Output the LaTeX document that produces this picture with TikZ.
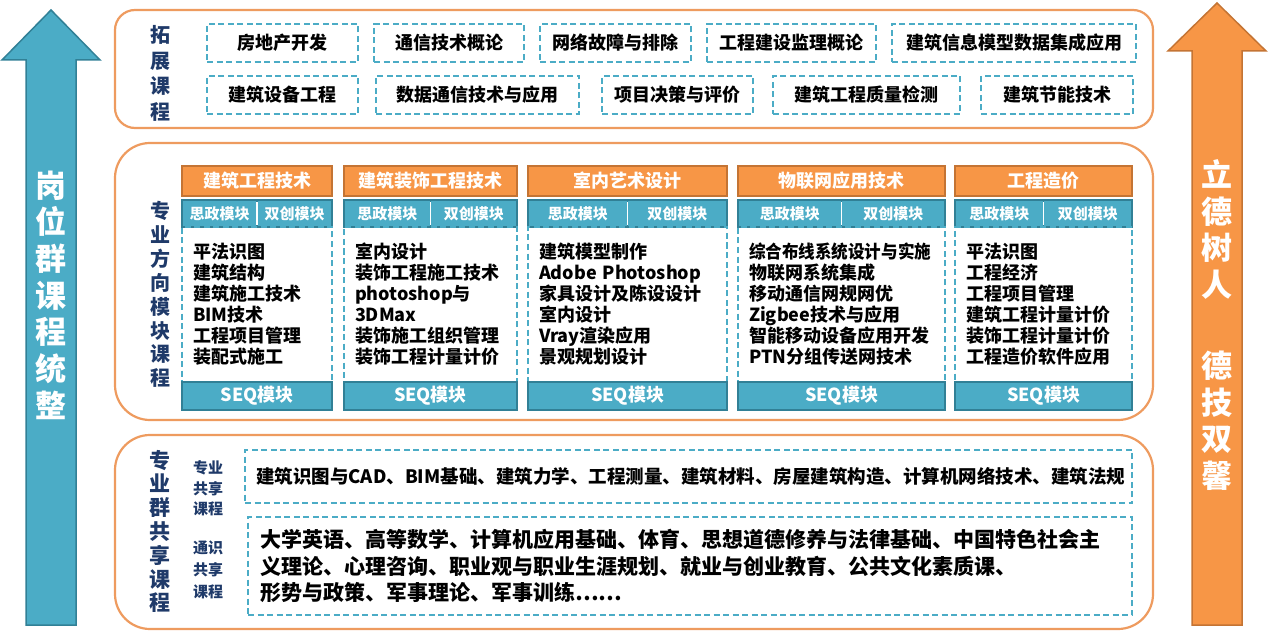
\documentclass[tikz,border=0pt]{standalone}
\usepackage{fontspec}
\setmainfont{Noto Sans CJK SC}
\usepackage{graphicx}
\usetikzlibrary{positioning}

\definecolor{tealfill}{RGB}{75,172,198}
\definecolor{tealdark}{RGB}{49,128,150}
\definecolor{orangefill}{RGB}{247,150,70}
\definecolor{orangedark}{RGB}{196,116,52}
\definecolor{panelline}{RGB}{238,155,95}
\definecolor{navy}{RGB}{31,58,105}

\tikzset{
  panelbox/.style={draw=panelline, line width=2.2pt, fill=white},
  dashbox/.style={draw=tealfill, line width=2pt, dash pattern=on 6pt off 3.5pt, font=\fontsize{18}{21}\selectfont\bfseries, minimum height=38pt, inner sep=0pt, outer sep=0pt},
  modhead/.style={draw=orangedark, fill=orangefill, line width=1.2pt, text=white, font=\fontsize{18}{21}\selectfont\bfseries, minimum height=30pt, inner sep=0pt, outer sep=0pt},
  modsub/.style={draw=tealdark, fill=tealfill, line width=1.2pt, text=white, font=\fontsize{15}{18}\selectfont\bfseries, minimum height=27pt, minimum width=#1, inner sep=0pt, outer sep=0pt},
  modbody/.style={draw=tealfill, line width=2pt, dash pattern=on 6pt off 3.5pt, font=\fontsize{18}{21}\selectfont\bfseries, minimum height=155pt, inner xsep=11pt, inner ysep=0pt, outer sep=0pt, align=left},
  modseq/.style={draw=tealdark, fill=tealfill, line width=1.2pt, text=white, font=\fontsize{18}{21}\selectfont\bfseries, minimum height=28pt, inner sep=0pt, outer sep=0pt},
  vlabel/.style={text=navy, font=\fontsize{20}{25}\selectfont\bfseries, align=center, inner sep=0pt},
  arrowtext/.style={text=white, font=\fontsize{31}{36.7}\selectfont\bfseries, align=center, inner sep=0pt},
}

\begin{document}
\begin{tikzpicture}[x=1pt, y=-1pt]
\useasboundingbox (0,0) rectangle (1269,631);

% Arrows
\draw[fill=tealfill, draw=tealdark, line width=1.5pt] (51,10) -- (100,60) -- (76,60) -- (76,625) -- (26,625) -- (26,60) -- (2,60) -- cycle;
\draw[fill=orangefill, draw=orangedark, line width=1.5pt] (1217,3) -- (1266,51) -- (1242,51) -- (1242,625) -- (1192,625) -- (1192,51) -- (1168,51) -- cycle;
\node[arrowtext] (goal) at (51,295) {岗\\位\\群\\课\\程\\统\\整};
\node[arrowtext] (moral) at (1217,325) {立\\德\\树\\人\\[44pt]德\\技\\双\\馨};

% Panels
\draw[panelbox, rounded corners=20pt] (115,10) rectangle (1153,128);
\draw[panelbox, rounded corners=35pt] (115,143) rectangle (1153,420);
\draw[panelbox, rounded corners=35pt] (115,435) rectangle (1153,629);

% Extension courses
\node[vlabel, font=\fontsize{20}{25.7}\selectfont\bfseries] (ext) at (160,73.5) {拓\\展\\课\\程};
\node[dashbox, minimum width=151pt] (k1) at (282.5,43) {房地产开发};
\node[dashbox, minimum width=150pt, right=16pt of k1] (k2) {通信技术概论};
\node[dashbox, minimum width=151pt, right=16pt of k2] (k3) {网络故障与排除};
\node[dashbox, minimum width=169pt, right=16pt of k3] (k4) {工程建设监理概论};
\node[dashbox, minimum width=244pt, right=16pt of k4] (k5) {建筑信息模型数据集成应用};
\node[dashbox, minimum width=151pt] (m1) at (282.5,95) {建筑设备工程};
\node[dashbox, minimum width=203pt, right=18pt of m1] (m2) {数据通信技术与应用};
\node[dashbox, minimum width=151pt, right=23pt of m2] (m3) {项目决策与评价};
\node[dashbox, minimum width=187pt, right=20pt of m3] (m4) {建筑工程质量检测};
\node[dashbox, minimum width=152pt, right=21pt of m4] (m5) {建筑节能技术};

% Direction modules
\node[vlabel, font=\fontsize{20}{23.9}\selectfont\bfseries] (dir) at (160,294.5) {专\\业\\方\\向\\模\\块\\课\\程};

\node[modhead, minimum width=150pt] (h1) at (257,181) {建筑工程技术};
\node[modhead, minimum width=173pt, right=12pt of h1] (h2) {建筑装饰工程技术};
\node[modhead, minimum width=199pt, right=11pt of h2] (h3) {室内艺术设计};
\node[modhead, minimum width=207pt, right=11pt of h3] (h4) {物联网应用技术};
\node[modhead, minimum width=177pt, right=10pt of h4] (h5) {工程造价};

\node[modsub=75pt, anchor=north west] (sa1) at ([yshift=-4pt]h1.south west) {思政模块};
\node[modsub=75pt, right=0pt of sa1] (sb1) {双创模块};
\node[modsub=86.5pt, anchor=north west] (sa2) at ([yshift=-4pt]h2.south west) {思政模块};
\node[modsub=86.5pt, right=0pt of sa2] (sb2) {双创模块};
\node[modsub=99.5pt, anchor=north west] (sa3) at ([yshift=-4pt]h3.south west) {思政模块};
\node[modsub=99.5pt, right=0pt of sa3] (sb3) {双创模块};
\node[modsub=103.5pt, anchor=north west] (sa4) at ([yshift=-4pt]h4.south west) {思政模块};
\node[modsub=103.5pt, right=0pt of sa4] (sb4) {双创模块};
\node[modsub=88.5pt, anchor=north west] (sa5) at ([yshift=-4pt]h5.south west) {思政模块};
\node[modsub=88.5pt, right=0pt of sa5] (sb5) {双创模块};

\node[modbody, text width=128pt, anchor=north west] (b1) at (sa1.south west) {平法识图\\建筑结构\\建筑施工技术\\BIM技术\\工程项目管理\\装配式施工};
\node[modbody, text width=151pt, anchor=north west] (b2) at (sa2.south west) {室内设计\\装饰工程施工技术\\photoshop与\\3DMax\\装饰施工组织管理\\装饰工程计量计价};
\node[modbody, text width=177pt, anchor=north west] (b3) at (sa3.south west) {建筑模型制作\\Adobe Photoshop\\家具设计及陈设设计\\室内设计\\Vray渲染应用\\景观规划设计};
\node[modbody, text width=185pt, anchor=north west] (b4) at (sa4.south west) {\scalebox{0.92}[1]{综合布线系统设计与实施}\\物联网系统集成\\移动通信网规网优\\Zigbee技术与应用\\智能移动设备应用开发\\PTN分组传送网技术};
\node[modbody, text width=155pt, anchor=north west] (b5) at (sa5.south west) {平法识图\\工程经济\\工程项目管理\\建筑工程计量计价\\装饰工程计量计价\\工程造价软件应用};

\node[modseq, minimum width=150pt, below=0pt of b1] (q1) {SEQ模块};
\node[modseq, minimum width=173pt, below=0pt of b2] (q2) {SEQ模块};
\node[modseq, minimum width=199pt, below=0pt of b3] (q3) {SEQ模块};
\node[modseq, minimum width=207pt, below=0pt of b4] (q4) {SEQ模块};
\node[modseq, minimum width=177pt, below=0pt of b5] (q5) {SEQ模块};

% Dividers
\draw[white, line width=1.5pt] ([yshift=-2pt]sa1.north east) -- ([yshift=2pt]sa1.south east);
\draw[white, line width=1.5pt] ([yshift=-2pt]sa2.north east) -- ([yshift=2pt]sa2.south east);
\draw[white, line width=1.5pt] ([yshift=-2pt]sa3.north east) -- ([yshift=2pt]sa3.south east);
\draw[white, line width=1.5pt] ([yshift=-2pt]sa4.north east) -- ([yshift=2pt]sa4.south east);
\draw[white, line width=1.5pt] ([yshift=-2pt]sa5.north east) -- ([yshift=2pt]sa5.south east);

% Shared courses
\node[vlabel, font=\fontsize{21}{23.8}\selectfont\bfseries] (shared) at (160,531.5) {专\\业\\群\\共\\享\\课\\程};
\node[vlabel, font=\fontsize{15}{20.5}\selectfont\bfseries] (major) at (208,488.5) {专业\\共享\\课程};
\node[vlabel, font=\fontsize{15}{22}\selectfont\bfseries] (general) at (208,570) {通识\\共享\\课程};

\node[dashbox, anchor=north west, minimum height=53pt, text width=865pt, inner xsep=11pt, align=left, font=\fontsize{18.5}{21}\selectfont\bfseries] (g1) at (245,450) {建筑识图与CAD、BIM基础、建筑力学、工程测量、建筑材料、房屋建筑构造、计算机网络技术、建筑法规};
\node[dashbox, anchor=north west, minimum height=98pt, text width=860pt, inner xsep=12pt, align=left, font=\fontsize{21}{26.5}\selectfont\bfseries] (g2) at (248,517) {大学英语、高等数学、计算机应用基础、体育、思想道德修养与法律基础、中国特色社会主\\义理论、心理咨询、职业观与职业生涯规划、就业与创业教育、公共文化素质课、\\形势与政策、军事理论、军事训练……};

\end{tikzpicture}
\end{document}
